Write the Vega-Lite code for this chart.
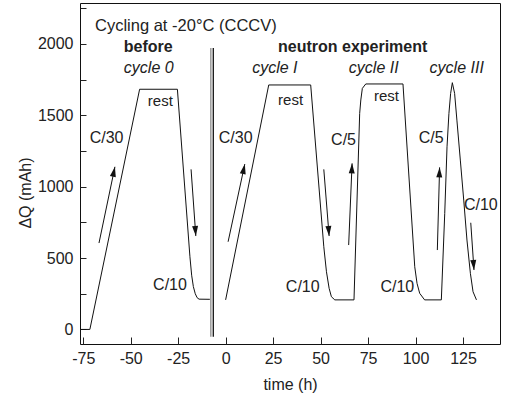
{
  "$schema": "https://vega.github.io/schema/vega-lite/v6.json",
  "width": 420,
  "height": 341,
  "autosize": {"type": "none"},
  "padding": {"left": 80, "top": 3, "right": 30, "bottom": 55},
  "background": "white",
  "config": {
    "view": {"stroke": "#111", "strokeWidth": 1},
    "font": "Liberation Sans",
    "axis": {"grid": false, "domain": false, "tickColor": "#222", "labelColor": "#222", "titleColor": "#222", "labelFontSize": 16, "titleFontSize": 16, "titleFontWeight": "normal", "labelFont": "Liberation Sans", "titleFont": "Liberation Sans"}
  },
  "datasets": {
    "curve": [
      {"t": -76.5, "q": 0, "seg": "c0"},
      {"t": -71.5, "q": 0, "seg": "c0"},
      {"t": -45.3, "q": 1682, "seg": "c0"},
      {"t": -25.4, "q": 1682, "seg": "c0"},
      {"t": -18.8, "q": 509, "seg": "c0"},
      {"t": -17.9, "q": 380, "seg": "c0"},
      {"t": -17.0, "q": 300, "seg": "c0"},
      {"t": -16.0, "q": 250, "seg": "c0"},
      {"t": -15.0, "q": 222, "seg": "c0"},
      {"t": -14.0, "q": 212, "seg": "c0"},
      {"t": -8.3, "q": 211, "seg": "c0"},
      {"t": 0, "q": 207, "seg": "c1"},
      {"t": 22.7, "q": 1712, "seg": "c1"},
      {"t": 44.8, "q": 1712, "seg": "c1"},
      {"t": 51.7, "q": 579, "seg": "c1"},
      {"t": 53.1, "q": 404, "seg": "c1"},
      {"t": 54.5, "q": 288, "seg": "c1"},
      {"t": 55.7, "q": 229, "seg": "c1"},
      {"t": 57.5, "q": 207, "seg": "c1"},
      {"t": 67.6, "q": 207, "seg": "c1"},
      {"t": 70.6, "q": 1513, "seg": "c1"},
      {"t": 71.2, "q": 1607, "seg": "c1"},
      {"t": 72.0, "q": 1688, "seg": "c1"},
      {"t": 73.8, "q": 1719, "seg": "c1"},
      {"t": 93.4, "q": 1719, "seg": "c1"},
      {"t": 99.6, "q": 439, "seg": "c1"},
      {"t": 100.8, "q": 323, "seg": "c1"},
      {"t": 102.2, "q": 253, "seg": "c1"},
      {"t": 104.8, "q": 207, "seg": "c1"},
      {"t": 113.6, "q": 207, "seg": "c1"},
      {"t": 115.4, "q": 813, "seg": "c1"},
      {"t": 116.6, "q": 1279, "seg": "c1"},
      {"t": 117.6, "q": 1513, "seg": "c1"},
      {"t": 118.5, "q": 1653, "seg": "c1"},
      {"t": 119.4, "q": 1728, "seg": "c1"},
      {"t": 120.6, "q": 1653, "seg": "c1"},
      {"t": 121.8, "q": 1466, "seg": "c1"},
      {"t": 123.6, "q": 1186, "seg": "c1"},
      {"t": 125.4, "q": 906, "seg": "c1"},
      {"t": 127.1, "q": 626, "seg": "c1"},
      {"t": 128.9, "q": 393, "seg": "c1"},
      {"t": 130.3, "q": 264, "seg": "c1"},
      {"t": 132.1, "q": 207, "seg": "c1"}
    ],
    "arrows": [
      {"t": -58.3, "q": 1139, "t2": -66.7, "q2": 605, "kind": "steep"},
      {"t": 10.1, "q": 1158, "t2": 1.3, "q2": 614, "kind": "steep"},
      {"t": 66.6, "q": 1163, "t2": 64.8, "q2": 591, "kind": "up"},
      {"t": 112.7, "q": 1135, "t2": 111.5, "q2": 556, "kind": "up"},
      {"t": -15.7, "q": 654, "t2": -18.2, "q2": 1121, "kind": "down"},
      {"t": 54.5, "q": 654, "t2": 51.7, "q2": 1121, "kind": "down"},
      {"t": 130.8, "q": 416, "t2": 129.1, "q2": 747, "kind": "down"}
    ],
    "breaks": [
      {"t": -7.8, "q": -52, "q2": 1971, "kind": "gray"},
      {"t": -6.5, "q": -52, "q2": 1971, "kind": "black"}
    ],
    "labels": [
      {"t": -68.8, "q": 2092, "text": "Cycling at -20°C (CCCV)", "g": "title"},
      {"t": -40.8, "q": 1945, "text": "before", "g": "bold"},
      {"t": 66.9, "q": 1945, "text": "neutron experiment", "g": "bold"},
      {"t": -40.5, "q": 1798, "text": "cycle 0", "g": "italic"},
      {"t": 25.9, "q": 1798, "text": "cycle I", "g": "italic"},
      {"t": 78.0, "q": 1798, "text": "cycle II", "g": "italic"},
      {"t": 121.7, "q": 1798, "text": "cycle III", "g": "italic"},
      {"t": -34.4, "q": 1564, "text": "rest", "g": "small"},
      {"t": 34.2, "q": 1571, "text": "rest", "g": "small"},
      {"t": 84.7, "q": 1602, "text": "rest", "g": "small"},
      {"t": -62.7, "q": 1303, "text": "C/30", "g": "reg"},
      {"t": 5.3, "q": 1303, "text": "C/30", "g": "reg"},
      {"t": 62.1, "q": 1291, "text": "C/5", "g": "reg"},
      {"t": 108.3, "q": 1303, "text": "C/5", "g": "reg"},
      {"t": 134.4, "q": 836, "text": "C/10", "g": "reg"},
      {"t": -29.3, "q": 276, "text": "C/10", "g": "reg"},
      {"t": 40.6, "q": 264, "text": "C/10", "g": "reg"},
      {"t": 90.4, "q": 264, "text": "C/10", "g": "reg"}
    ]
  },
  "encoding": {
    "x": {
      "field": "t", "type": "quantitative",
      "scale": {"domain": [-76.7, 144.5], "nice": false, "zero": false},
      "axis": {"title": "time (h)", "values": [-75, -50, -25, 0, 25, 50, 75, 100, 125], "labelExpr": "'' + datum.value", "offset": -7, "tickSize": 7, "labelPadding": 6, "titleBaseline": "alphabetic", "titleY": 52}
    },
    "y": {
      "field": "q", "type": "quantitative",
      "scale": {"domain": [-102, 2286], "nice": false, "zero": false},
      "axis": {"title": "ΔQ (mAh)", "values": [0, 250, 500, 750, 1000, 1250, 1500, 1750, 2000, 2250], "labelExpr": "datum.value % 500 === 0 ? '' + datum.value : ''", "offset": -6, "tickSize": 6, "labelPadding": 7, "titleX": -61, "titleY": 189.5, "titleBaseline": "middle"}
    }
  },
  "layer": [
    {
      "data": {"name": "curve"},
      "mark": {"type": "line", "color": "#111", "strokeWidth": 1},
      "encoding": {"detail": {"field": "seg", "type": "nominal"}}
    },
    {
      "data": {"name": "breaks"},
      "transform": [{"filter": "datum.kind === 'gray'"}],
      "mark": {"type": "rule", "color": "#9a9a9a", "strokeWidth": 1.5},
      "encoding": {"y2": {"field": "q2"}}
    },
    {
      "data": {"name": "breaks"},
      "transform": [{"filter": "datum.kind === 'black'"}],
      "mark": {"type": "rule", "color": "#111", "strokeWidth": 1.3},
      "encoding": {"y2": {"field": "q2"}}
    },
    {
      "data": {"name": "arrows"},
      "mark": {"type": "rule", "color": "#111", "strokeWidth": 1},
      "encoding": {"x2": {"field": "t2"}, "y2": {"field": "q2"}}
    },
    {
      "data": {"name": "arrows"},
      "transform": [{"filter": "datum.kind === 'steep'"}],
      "mark": {"type": "point", "shape": "M0,0 L-0.6,2 L0.6,2 Z", "filled": true, "color": "#111", "opacity": 1, "size": 100, "angle": 12}
    },
    {
      "data": {"name": "arrows"},
      "transform": [{"filter": "datum.kind === 'up'"}],
      "mark": {"type": "point", "shape": "M0,0 L-0.6,2 L0.6,2 Z", "filled": true, "color": "#111", "opacity": 1, "size": 100, "angle": 2}
    },
    {
      "data": {"name": "arrows"},
      "transform": [{"filter": "datum.kind === 'down'"}],
      "mark": {"type": "point", "shape": "M0,0 L-0.6,2 L0.6,2 Z", "filled": true, "color": "#111", "opacity": 1, "size": 100, "angle": 175.7}
    },
    {
      "data": {"name": "labels"},
      "transform": [{"filter": "datum.g === 'title'"}],
      "mark": {"type": "text", "align": "left", "baseline": "alphabetic", "fontSize": 16.5, "color": "#222", "font": "Liberation Sans"},
      "encoding": {"text": {"field": "text"}}
    },
    {
      "data": {"name": "labels"},
      "transform": [{"filter": "datum.g === 'bold'"}],
      "mark": {"type": "text", "align": "center", "baseline": "alphabetic", "fontSize": 16, "fontWeight": "bold", "color": "#222", "font": "Liberation Sans"},
      "encoding": {"text": {"field": "text"}}
    },
    {
      "data": {"name": "labels"},
      "transform": [{"filter": "datum.g === 'italic'"}],
      "mark": {"type": "text", "align": "center", "baseline": "alphabetic", "fontSize": 16, "fontStyle": "italic", "color": "#222", "font": "Liberation Sans"},
      "encoding": {"text": {"field": "text"}}
    },
    {
      "data": {"name": "labels"},
      "transform": [{"filter": "datum.g === 'small'"}],
      "mark": {"type": "text", "align": "center", "baseline": "alphabetic", "fontSize": 15, "color": "#222", "font": "Liberation Sans"},
      "encoding": {"text": {"field": "text"}}
    },
    {
      "data": {"name": "labels"},
      "transform": [{"filter": "datum.g === 'reg'"}],
      "mark": {"type": "text", "align": "center", "baseline": "alphabetic", "fontSize": 16, "color": "#222", "font": "Liberation Sans"},
      "encoding": {"text": {"field": "text"}}
    }
  ]
}
